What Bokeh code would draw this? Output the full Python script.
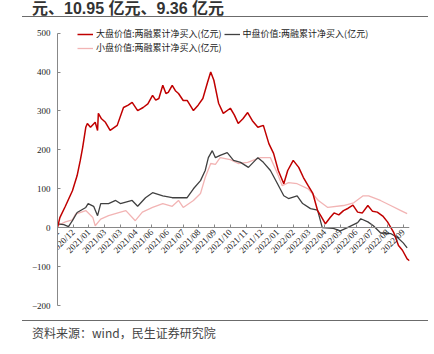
import math
from bokeh.plotting import figure
from bokeh.models import Range1d, FixedTicker, Legend, LegendItem, Div, LinearAxis
from bokeh.layouts import column
from bokeh.embed import file_html
from bokeh.resources import INLINE

title_text = "元、10.95 亿元、9.36 亿元"
source_text = "资料来源：wind，民生证券研究院"
series_names = ["大盘价值:两融累计净买入(亿元)",
                "中盘价值:两融累计净买入(亿元)",
                "小盘价值:两融累计净买入(亿元)"]

tick_days = list(range(0, 441, 20))
tick_labels = ["2020/12", "2020/12", "2021/01", "2021/03", "2021/03", "2021/04",
               "2021/06", "2021/06", "2021/07", "2021/08", "2021/09", "2021/10",
               "2021/11", "2021/12", "2022/01", "2022/02", "2022/03", "2022/04",
               "2022/05", "2022/06", "2022/07", "2022/08", "2022/09"]
y_ticks = [-200, -100, 0, 100, 200, 300, 400, 500]

# 大盘价值 (trading-day index, value)
large_days = [0, 3, 10, 19, 25, 29, 32, 36, 38, 42, 48, 51, 52, 56, 61, 67, 76, 84,
              90, 95, 102, 109, 115, 121, 125, 129, 134, 138, 141, 146, 150, 154, 160,
              165, 173, 179, 185, 191, 195, 199, 205, 211, 220, 225, 230, 236, 242,
              248, 255, 262, 269, 275, 281, 288, 293, 300, 307, 313, 319, 325, 331,
              335, 341, 347, 352, 358, 364, 370, 376, 382, 388, 395, 401, 407, 414,
              420, 428, 434, 439, 445, 448]
large_vals = [0, 26, 55, 95, 134, 173, 206, 258, 268, 258, 271, 250, 294, 280, 271,
              250, 263, 309, 315, 322, 301, 309, 318, 340, 328, 332, 366, 345, 348,
              366, 352, 345, 327, 327, 301, 315, 332, 374, 400, 379, 320, 294, 307,
              290, 268, 280, 296, 275, 258, 263, 216, 191, 147, 113, 147, 173, 155,
              129, 108, 88, 44, 31, 10, 26, 38, 33, 44, 50, 58, 40, 38, 57, 42, 40,
              30, 15, -13, -46, -58, -80, -85]

# 中盘价值
mid_days = [0, 8, 14, 19, 25, 36, 39, 46, 51, 55, 65, 74, 80, 95, 102, 112, 121, 134,
            146, 160, 165, 173, 182, 188, 192, 197, 201, 207, 216, 224, 233, 243, 255,
            262, 271, 280, 288, 294, 305, 312, 322, 331, 337, 351, 360, 369, 382, 386,
            395, 402, 411, 424, 433, 440, 445]
mid_vals = [10, 8, 3, 18, 39, 52, 62, 55, 31, 62, 62, 70, 62, 70, 55, 77, 90, 82, 77,
            77, 77, 100, 121, 147, 180, 198, 180, 186, 193, 173, 168, 155, 180, 168,
            147, 113, 82, 75, 82, 62, 49, 45, 0, -2, -8, 0, 13, 23, 15, 5, -13, -15,
            -26, -39, -52]

# 小盘价值
small_days = [0, 10, 19, 23, 36, 45, 48, 55, 65, 78, 87, 99, 108, 121, 134, 146, 154,
              160, 173, 182, 188, 195, 201, 207, 220, 230, 242, 258, 271, 280, 286,
              294, 305, 319, 332, 344, 364, 377, 389, 396, 411, 424, 437, 445]
small_vals = [5, 15, 20, 35, 44, 26, 5, 22, 31, 39, 44, 18, 40, 52, 62, 55, 70, 52,
              70, 88, 129, 165, 163, 180, 175, 165, 168, 180, 180, 139, 108, 116,
              113, 100, 70, 52, 57, 64, 82, 82, 70, 57, 44, 36]

colors = ["#C00000", "#404040", "#F2B4B4"]

p = figure(width=434, height=303, x_range=Range1d(0, 448), y_range=Range1d(-200, 530),
           output_backend="svg", toolbar_location=None, x_axis_location=None,
           min_border_left=57, min_border_right=25, min_border_top=4,
           min_border_bottom=15)
p.grid.visible = False
p.outline_line_color = None
p.background_fill_color = "white"
p.border_fill_color = "white"

r_small = p.line(small_days, small_vals, line_color=colors[2], line_width=1.3)
r_mid = p.line(mid_days, mid_vals, line_color=colors[1], line_width=1.3)
r_large = p.line(large_days, large_vals, line_color=colors[0], line_width=1.5)

yax = p.yaxis[0]
yax.ticker = FixedTicker(ticks=y_ticks)
yax.bounds = (-200, 500)
yax.major_tick_in = 3
yax.major_tick_out = 0
yax.minor_tick_line_color = None
yax.axis_line_color = "#888888"
yax.major_tick_line_color = "#888888"
yax.major_label_text_font = "Liberation Serif"
yax.major_label_text_font_size = "9px"
yax.major_label_text_color = "#222222"
yax.major_label_standoff = 7

xax = LinearAxis(fixed_location=0, ticker=FixedTicker(ticks=tick_days),
                 major_label_overrides={d: lab for d, lab in zip(tick_days, tick_labels)},
                 major_label_orientation=math.pi / 4,
                 major_tick_in=3, major_tick_out=0,
                 minor_tick_line_color=None,
                 axis_line_color="#888888", major_tick_line_color="#888888",
                 major_label_text_font="Liberation Serif",
                 major_label_text_font_size="9px",
                 major_label_text_color="#222222",
                 major_label_standoff=3)
p.add_layout(xax, "below")

def make_legend(items, loc):
    return Legend(items=items, orientation="horizontal", location=loc,
                  padding=0, margin=0, spacing=2, label_standoff=3,
                  glyph_width=16, glyph_height=12, label_height=12,
                  border_line_color=None, background_fill_alpha=0,
                  label_text_font="Noto Sans CJK SC", label_text_font_size="9px",
                  label_text_color="#222222")

leg1 = make_legend([LegendItem(label=series_names[0], renderers=[r_large]),
                    LegendItem(label=series_names[1], renderers=[r_mid])], (20, 265))
leg2 = make_legend([LegendItem(label=series_names[2], renderers=[r_small])], (20, 251))
p.add_layout(leg1)
p.add_layout(leg2)

title_html = (
    '<div style="position:relative;width:434px;height:17px;background:white;">'
    '<div style="position:absolute;left:32px;top:0px;'
    'font-family:\'Liberation Sans\',\'Noto Sans CJK SC\';'
    'font-weight:bold;font-size:16px;line-height:18px;color:#333;white-space:nowrap;">'
    + title_text + '</div>'
    '<div style="position:absolute;left:22px;top:15.5px;width:406px;height:0;'
    'border-top:1.5px solid #6b6b6b;"></div></div>')
source_html = (
    '<div style="position:relative;width:434px;height:34px;background:white;">'
    '<div style="position:absolute;left:22px;top:0px;width:406px;height:0;'
    'border-top:1.5px solid #6b6b6b;"></div>'
    '<div style="position:absolute;left:32px;top:6px;font-family:\'Noto Sans CJK SC\';'
    'font-size:12px;line-height:14px;color:#444;white-space:nowrap;">'
    + source_text + '</div></div>')

title_div = Div(text=title_html, width=434, height=17, margin=0)
source_div = Div(text=source_html, width=434, height=34, margin=0)

layout = column(title_div, p, source_div, spacing=0)
open("out.html", "w").write(file_html(layout, INLINE))
